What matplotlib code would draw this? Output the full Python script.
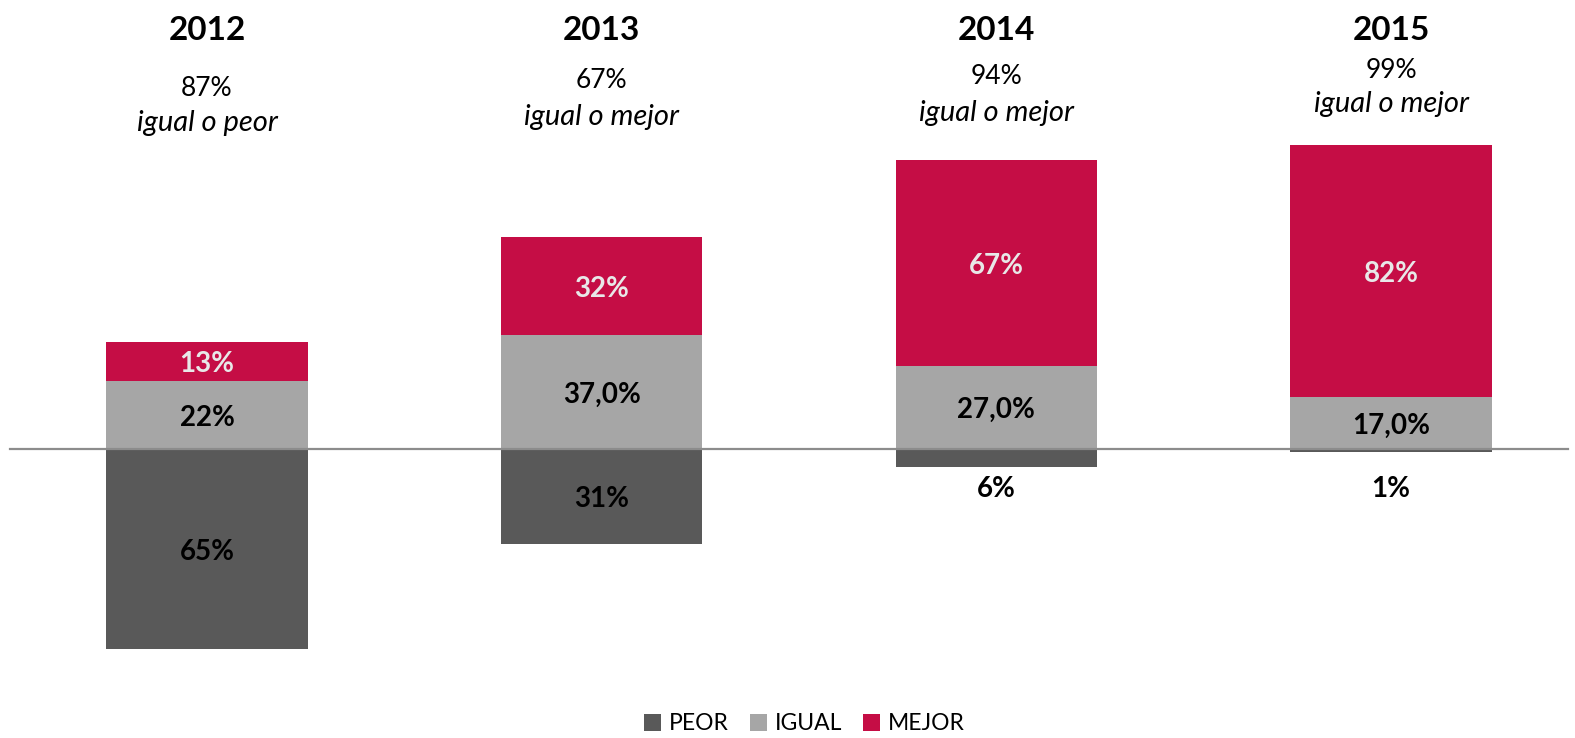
import matplotlib
matplotlib.use("Agg")
import matplotlib.pyplot as plt
import numpy as np

years = ["2012", "2013", "2014", "2015"]
peor = [65, 31, 6, 1]
igual = [22, 37, 27, 17]
mejor = [13, 32, 67, 82]
peor_labels = ["65%", "31%", "6%", "1%"]
igual_labels = ["22%", "37,0%", "27,0%", "17,0%"]
mejor_labels = ["13%", "32%", "67%", "82%"]
summary_pct = ["87%", "67%", "94%", "99%"]
summary_txt = ["igual o peor", "igual o mejor", "igual o mejor", "igual o mejor"]
series_names = ["PEOR", "IGUAL", "MEJOR"]

c_peor, c_igual, c_mejor = "#595959", "#A6A6A6", "#C50D45"
FONT = "Lato"

W, H = 1575, 738
fig = plt.figure(figsize=(W / 100, H / 100), dpi=100)
ax = fig.add_axes([0, 0, 1, 1])
spacing = 394.67
pxpu = 3.07
x0px, y0px = 207, 449
ax.set_xlim(-x0px / spacing, (W - x0px) / spacing)
ax.set_ylim(-(H - y0px) / pxpu, y0px / pxpu)
ax.axis("off")

x = np.arange(len(years))
w = 0.51
neg = [-v for v in peor]
b1 = ax.bar(x, neg, w, color=c_peor, label=series_names[0], zorder=2)
b2 = ax.bar(x, igual, w, color=c_igual, label=series_names[1], zorder=2)
b3 = ax.bar(x, mejor, w, bottom=igual, color=c_mejor, label=series_names[2], zorder=2)

ax.axhline(0, xmin=10 / W, xmax=1568 / W, color="#8C8C8C", lw=1.6, zorder=3)

dy = -0.9  # small downward nudge for label baseline
lab_kw = dict(ha="center", va="center", fontsize=20, fontweight="bold",
              family=FONT, zorder=4)
for i in range(len(years)):
    if peor[i] >= 10:
        ax.text(x[i], -peor[i] / 2 + dy, peor_labels[i], color="black", **lab_kw)
    else:
        ax.text(x[i], -13, peor_labels[i], color="black", **lab_kw)
    ax.text(x[i], igual[i] / 2 + dy, igual_labels[i], color="black", **lab_kw)
    ax.text(x[i], igual[i] + mejor[i] / 2 + dy, mejor_labels[i], color="#E8E8E8", **lab_kw)

trans = ax.get_xaxis_transform()
pct_y = [88, 80, 77, 70]
txt_y = [123, 117, 113, 104]
for i in range(len(years)):
    ax.text(x[i], 1 - 30 / H, years[i], transform=trans, ha="center", va="center",
            fontsize=24, fontweight="bold", family=FONT)
    ax.text(x[i], 1 - pct_y[i] / H, summary_pct[i], transform=trans, ha="center",
            va="center", fontsize=19, family=FONT)
    ax.text(x[i], 1 - txt_y[i] / H, summary_txt[i], transform=trans, ha="center",
            va="center", fontsize=21, style="italic", family=FONT)

leg = fig.legend(handles=[b1, b2, b3], labels=series_names, loc="center",
                 bbox_to_anchor=(804.5 / W, 1 - 724 / H), ncol=3, frameon=False,
                 prop={"family": FONT, "size": 16.5}, handlelength=0.75,
                 handleheight=0.75, handletextpad=0.35, columnspacing=0.9)

fig.savefig("out.png", dpi=100)
